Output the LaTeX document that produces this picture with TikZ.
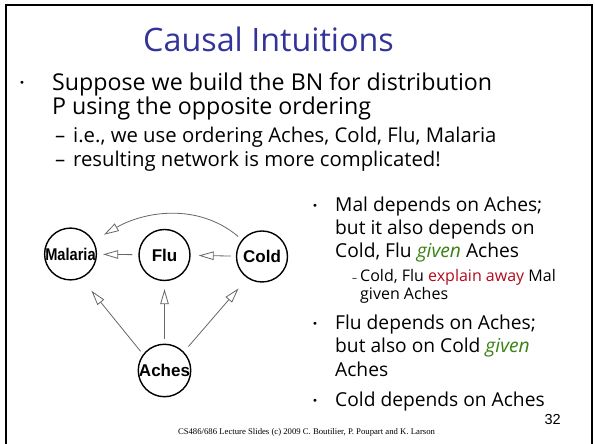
\documentclass[tikz,border=0pt]{standalone}
\usepackage{fontspec}
\setmainfont{Open Sans}
\newfontfamily\graphfont{Liberation Sans}
\newfontfamily\footfont{Liberation Serif}
\newfontfamily\bulletfont{DejaVu Sans}
\usetikzlibrary{arrows.meta}
\definecolor{titleblue}{RGB}{51,51,153}
\definecolor{givengreen}{RGB}{56,128,20}
\definecolor{awayred}{RGB}{178,10,30}
\newcommand{\givenword}{\textcolor{givengreen}{\itshape given}}
\tikzset{
  slidetitle/.style={anchor=base, inner sep=0, text=titleblue,
    font=\fontsize{32.3}{36}\selectfont},
  mainline/.style={anchor=base west, inner sep=0, font=\fontsize{23.2}{26}\selectfont},
  subline/.style={anchor=base west, inner sep=0, font=\fontsize{20.3}{23}\selectfont},
  rline/.style={anchor=base west, inner sep=0, font=\fontsize{19.2}{22}\selectfont},
  rsubline/.style={anchor=base west, inner sep=0, font=\fontsize{16}{18}\selectfont},
  bulletdot/.style={anchor=base, inner sep=0, font=\bulletfont\fontsize{10}{10}\selectfont},
  bnnode/.style={circle, draw=black, line width=1.4pt, minimum size=51pt, inner sep=0,
    font=\graphfont\bfseries\fontsize{17}{17}\selectfont},
  bnedge/.style={draw=black!60, line width=0.8pt,
    -{Triangle[open, length=15pt, width=8.5pt, line width=0.8pt]}},
}
\begin{document}
\begin{tikzpicture}[x=1pt, y=1pt]
\useasboundingbox (0,0) rectangle (595,444);
% slide frame (open at the bottom)
\draw[line width=2pt] (6,0) -- (6,439) -- (592,439) -- (592,0);

% title
\node[slidetitle] (title) at (268.5,392) {Causal Intuitions};

% upper bullet list
\node[bulletdot] (b1) at (22,357.3) {•};
\node[mainline] (l1) at (52,353) {Suppose we build the BN for distribution};
\node[mainline] (l2) at (52,329) {P using the opposite ordering};
\node[subline] (d1) at (55,301) {–};
\node[subline] (l3) at (73,301) {i.e., we use ordering Aches, Cold, Flu, Malaria};
\node[subline] (d2) at (55,277) {–};
\node[subline] (l4) at (73,277) {resulting network is more complicated!};

% right-hand bullet list
\node[bulletdot] (rb1) at (315,234.3) {•};
\node[rline] (r1) at (335,232) {Mal depends on Aches;};
\node[rline] (r2) at (335,209) {but it also depends on};
\node[rline] (r3) at (335,186) {Cold, Flu \givenword{} Aches};
\node[anchor=base west, inner sep=0, font=\fontsize{10}{10}\selectfont] (rd) at (352,162) {–};
\node[rsubline] (r4) at (360,162) {Cold, Flu \textcolor{awayred}{explain away} Mal};
\node[rsubline] (r5) at (360,144) {given Aches};
\node[bulletdot] (rb2) at (315,116.3) {•};
\node[rline] (r6) at (335,114) {Flu depends on Aches;};
\node[rline] (r7) at (335,91) {but also on Cold \givenword};
\node[rline] (r8) at (335,67) {Aches};
\node[bulletdot] (rb3) at (315,39.3) {•};
\node[rline] (r9) at (335,37) {Cold depends on Aches};

% page number and footer
\node[anchor=base east, inner sep=0, font=\graphfont\fontsize{14.5}{15}\selectfont]
  (pageno) at (561,19) {32};
\node[anchor=base, inner sep=0, font=\footfont\fontsize{8.7}{9}\selectfont]
  (footer) at (306.5,9) {CS486/686 Lecture Slides (c) 2009 C. Boutilier, P. Poupart and K. Larson};

% Bayesian network
\node[bnnode] (malaria) at (70.5,190) {\raisebox{-3pt}{\scalebox{0.86}[1]{Malaria}}};
\node[bnnode] (flu) at (164.5,189) {\raisebox{-3pt}{Flu}};
\node[bnnode] (cold) at (262,187.5) {\raisebox{-3pt}{Cold}};
\node[bnnode] (aches) at (164.5,73.5) {\raisebox{-3pt}{Aches}};

\draw[bnedge, shorten <=6pt, shorten >=6pt] (flu) -- (malaria);
\draw[bnedge, shorten <=5pt, shorten >=8pt] (cold) -- (flu);
\draw[bnedge, shorten <=5pt, shorten >=8pt] (aches) -- (flu);
\draw[bnedge, shorten <=3.8pt, shorten >=16pt] (aches.143) -- (malaria.-66);
\draw[bnedge, shorten <=7pt, shorten >=13.5pt] (aches.44) -- (cold.-124);
\draw[bnedge, shorten <=5pt, shorten >=12pt] (cold) to[out=140, in=30] (malaria);
\end{tikzpicture}
\end{document}
